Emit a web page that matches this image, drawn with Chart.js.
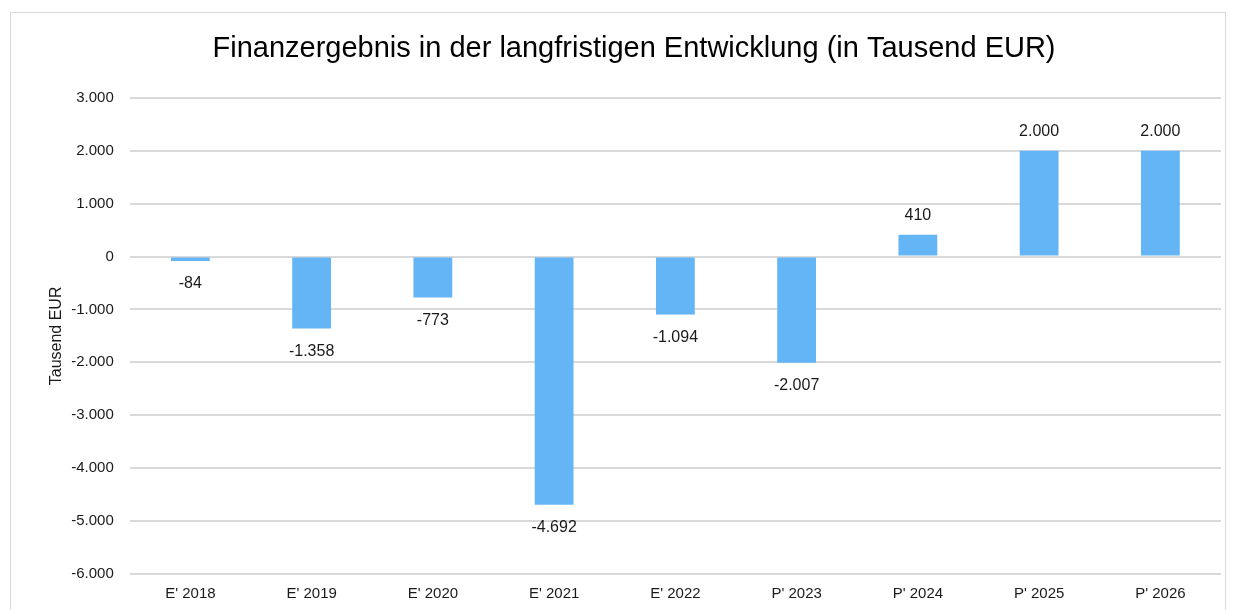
<!doctype html>
<html lang="de">
<head>
<meta charset="utf-8">
<title>Finanzergebnis</title>
<script src="https://cdn.jsdelivr.net/npm/chart.js@4.4.0/dist/chart.umd.min.js"></script>
<style>
  html, body { margin: 0; padding: 0; background: #fff; overflow: hidden; }
  #wrap { position: relative; width: 1238px; height: 610px; overflow: hidden; }
  #frame { position: absolute; left: 10px; top: 12px; width: 1216px; height: 620px; border: 1px solid #d9d9d9; box-sizing: border-box; }
  canvas { position: absolute; left: 0; top: 0; }
</style>
</head>
<body>
<div id="wrap">
  <div id="frame"></div>
  <canvas id="chart" width="1238" height="616"></canvas>
</div>
<script>
const categories = ["E' 2018", "E' 2019", "E' 2020", "E' 2021", "E' 2022", "P' 2023", "P' 2024", "P' 2025", "P' 2026"];
const values = [-84, -1358, -773, -4692, -1094, -2007, 410, 2000, 2000];

const FONT = '"Liberation Sans", Arial, sans-serif';

function fmt(v) {
    return v.toLocaleString('de-DE');
}

const labelPlugin = {
    id: 'barLabels',
    afterDatasetsDraw(chart) {
        const ctx = chart.ctx;
        const meta = chart.getDatasetMeta(0);
        ctx.save();
        ctx.font = '16px ' + FONT;
        ctx.fillStyle = '#1a1a1a';
        ctx.textAlign = 'center';
        meta.data.forEach((bar, i) => {
            const v = values[i];
            if (v < 0) {
                ctx.textBaseline = 'top';
                ctx.fillText(fmt(v), bar.x, bar.y + 15);
            } else {
                ctx.textBaseline = 'bottom';
                ctx.fillText(fmt(v), bar.x, bar.y - 11);
            }
        });
        ctx.restore();
    }
};

new Chart(document.getElementById('chart'), {
    type: 'bar',
    data: {
        labels: categories,
        datasets: [{
            data: values,
            backgroundColor: '#64b5f6',
            barPercentage: 0.32,
            categoryPercentage: 1.0
        }]
    },
    options: {
        responsive: false,
        animation: false,
        layout: { padding: { left: 47, right: 17, top: 32, bottom: 2 } },
        plugins: {
            legend: { display: false },
            tooltip: { enabled: false },
            title: {
                display: true,
                text: 'Finanzergebnis in der langfristigen Entwicklung (in Tausend EUR)',
                color: '#000',
                font: { family: FONT, size: 29, weight: 'normal' },
                padding: { top: 0, bottom: 31 }
            }
        },
        scales: {
            x: {
                grid: { display: false, drawTicks: false },
                border: { display: false },
                ticks: {
                    color: '#1a1a1a',
                    padding: 11,
                    font: { family: FONT, size: 15 }
                }
            },
            y: {
                min: -6000,
                max: 3000,
                grid: { color: '#d9d9d9', lineWidth: 2, drawTicks: false },
                border: { display: false },
                ticks: {
                    stepSize: 1000,
                    color: '#1a1a1a',
                    padding: 16,
                    font: { family: FONT, size: 15 },
                    callback: v => fmt(v)
                },
                title: {
                    display: true,
                    text: 'Tausend EUR',
                    color: '#1a1a1a',
                    font: { family: FONT, size: 16 },
                    padding: { top: 0, bottom: -11 }
                }
            }
        }
    },
    plugins: [labelPlugin]
});
</script>
</body>
</html>
